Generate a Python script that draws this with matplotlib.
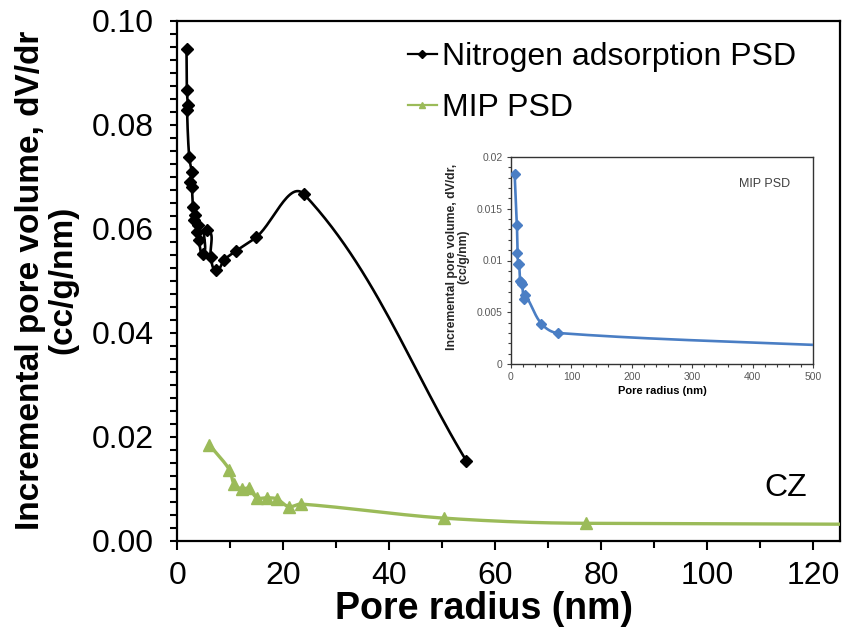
import numpy as np
import matplotlib
matplotlib.use("Agg")
import matplotlib.pyplot as plt
from matplotlib.lines import Line2D
from matplotlib.ticker import MultipleLocator, FuncFormatter

plt.rcParams['font.family'] = ['Liberation Sans', 'DejaVu Sans']

# Nitrogen adsorption pore size distribution (main panel)
n2_radius = [1.70, 1.75, 1.95, 1.80, 2.20, 2.65, 2.40, 2.70, 2.90, 3.30, 3.10,
             3.90, 3.60, 4.00, 4.90, 5.60, 6.30, 7.30, 8.80, 11.0, 14.9, 23.9, 54.5]
n2_dvdr = [0.0946, 0.0867, 0.0837, 0.0829, 0.0738, 0.0709, 0.0690, 0.0680, 0.0642,
           0.0626, 0.0616, 0.0607, 0.0594, 0.0578, 0.0551, 0.0598, 0.0546, 0.0520,
           0.0540, 0.0557, 0.0584, 0.0666, 0.0154]

# Mercury intrusion pore size distribution
mip_radius = [6.0, 9.8, 10.7, 12.1, 13.4, 15.0, 16.8, 18.7, 21.0, 23.3, 50.2, 77.0, 560.0]
mip_dvdr_main = [0.0185, 0.0137, 0.0109, 0.0100, 0.0101, 0.0083, 0.0083, 0.0081,
                 0.0066, 0.0071, 0.0044, 0.0034, 0.0024]
mip_dvdr_inset = [0.0184, 0.0134, 0.0107, 0.0097, 0.0097, 0.0080, 0.0079, 0.0077,
                  0.0063, 0.0067, 0.0039, 0.0030, 0.0017]

x_ticks_main = [0, 20, 40, 60, 80, 100, 120]
y_ticks_main = [0.00, 0.02, 0.04, 0.06, 0.08, 0.10]
x_ticks_inset = [0, 100, 200, 300, 400, 500]
y_ticks_inset = [0, 0.005, 0.01, 0.015, 0.02]

BLACK = '#000000'
GREEN = '#9bbb59'
BLUE = '#4a7ec4'


def smooth_curve(ax, x, y, k=1/3, n=30):
    """Spreadsheet-style smoothed line: cubic Bezier segments in display space."""
    pts = ax.transData.transform(np.column_stack([x, y]))
    m = len(pts)
    out = [pts[0]]
    t = np.linspace(0, 1, n)[1:, None]
    for i in range(m - 1):
        p0, p1, p2, p3 = pts[max(i - 1, 0)], pts[i], pts[i + 1], pts[min(i + 2, m - 1)]
        seg = np.linalg.norm(p2 - p1)
        d1, d2 = p2 - p0, p3 - p1
        n1, n2 = np.linalg.norm(d1), np.linalg.norm(d2)
        c1 = p1 + (d1 / n1 * seg * k if n1 > 0 else 0)
        c2 = p2 - (d2 / n2 * seg * k if n2 > 0 else 0)
        b = (1 - t) ** 3 * p1 + 3 * (1 - t) ** 2 * t * c1 + 3 * (1 - t) * t ** 2 * c2 + t ** 3 * p2
        out.extend(b)
    data = ax.transData.inverted().transform(np.array(out))
    return data[:, 0], data[:, 1]


W, H = 845, 631
fig = plt.figure(figsize=(W / 100, H / 100), dpi=100)


def px_axes(left, top, right, bottom):
    return fig.add_axes([left / W, 1 - bottom / H, (right - left) / W, (bottom - top) / H])


# ---- main panel ----
ax = px_axes(177.5, 20.5, 840, 541)
ax.set_xlim(0, 125)
ax.set_ylim(0, 0.10)

sx, sy = smooth_curve(ax, n2_radius, n2_dvdr)
ax.plot(sx, sy, color=BLACK, lw=1.9, zorder=3)
ax.plot(n2_radius, n2_dvdr, ls='none', marker='D', ms=6.2, color=BLACK, zorder=4)

gx, gy = smooth_curve(ax, mip_radius, mip_dvdr_main)
ax.plot(gx, gy, color=GREEN, lw=2.4, zorder=3)
ax.plot(mip_radius, mip_dvdr_main, ls='none', marker='^', ms=8.5, color=GREEN, zorder=4)

ax.set_xticks(x_ticks_main)
ax.set_yticks(y_ticks_main)
ax.xaxis.set_minor_locator(MultipleLocator(10))
ax.yaxis.set_minor_locator(MultipleLocator(0.0025))
ax.yaxis.set_major_formatter(FuncFormatter(lambda v, p: f'{v:.2f}'))
ax.tick_params(axis='x', which='major', direction='out', length=6.5, width=1.5,
               labelsize=23, pad=8)
ax.tick_params(axis='y', which='major', direction='out', length=5, width=1.5,
               labelsize=23, pad=12)
ax.tick_params(axis='both', which='minor', direction='out', length=5, width=1.5)
for s in ax.spines.values():
    s.set_linewidth(1.6)
    s.set_color(BLACK)

fig.text(484 / W, 1 - 619 / H, 'Pore radius (nm)', ha='center', va='baseline',
         fontsize=27, fontweight='bold')
fig.text(47 / W, 1 - 280 / H, 'Incremental pore volume, dV/dr\n(cc/g/nm)', ha='center',
         va='center', rotation=90, fontsize=24, fontweight='bold', linespacing=1.05,
         multialignment='center')
fig.text(786 / W, 1 - 488 / H, 'CZ', ha='center', va='center', fontsize=23)

handles = [Line2D([], [], color=BLACK, lw=1.6, marker='D', ms=4),
           Line2D([], [], color=GREEN, lw=1.6, marker='^', ms=5)]
ax.legend(handles, ['Nitrogen adsorption PSD', 'MIP PSD'], loc='upper left',
          bbox_to_anchor=(408 / W, 1 - 42 / H), bbox_transform=fig.transFigure,
          frameon=False, fontsize=23, handlelength=0.9, handletextpad=0.15,
          labelspacing=0.66, borderpad=0, borderaxespad=0)

# ---- inset: MIP PSD over full radius range ----
ins = px_axes(511, 157, 813, 364)
ins.set_xlim(0, 500)
ins.set_ylim(0, 0.02)
ix, iy = smooth_curve(ins, mip_radius, mip_dvdr_inset)
ins.plot(ix, iy, color=BLUE, lw=1.9, zorder=3)
ins.plot(mip_radius, mip_dvdr_inset, ls='none', marker='D', ms=4.8, color=BLUE, zorder=4)
ins.set_xticks(x_ticks_inset)
ins.set_yticks(y_ticks_inset)
ins.xaxis.set_minor_locator(MultipleLocator(20))
ins.yaxis.set_minor_locator(MultipleLocator(0.001))
ins.yaxis.set_major_formatter(FuncFormatter(lambda v, p: f'{v:g}'))
ins.tick_params(axis='both', which='major', direction='out', length=3, width=0.8,
                labelsize=7.5, labelcolor='#595959', color='#404040', pad=3)
ins.tick_params(axis='both', which='minor', direction='out', length=2.5, width=0.8,
                color='#404040')
for s in ins.spines.values():
    s.set_linewidth(1.0)
    s.set_color('#333333')
ins.set_xlabel('Pore radius (nm)', fontsize=8, fontweight='bold', labelpad=3)
fig.text(458 / W, 1 - 257 / H, 'Incremental pore volume, dV/dr,\n(cc/g/nm)',
         ha='center', va='center', rotation=90, fontsize=8.8, fontweight='bold',
         linespacing=0.95, multialignment='center', color='#262626')
ins.text(0.84, 0.87, 'MIP PSD', transform=ins.transAxes, ha='center', va='center',
         fontsize=9, color='#404040')

fig.savefig('out.png', dpi=100)
